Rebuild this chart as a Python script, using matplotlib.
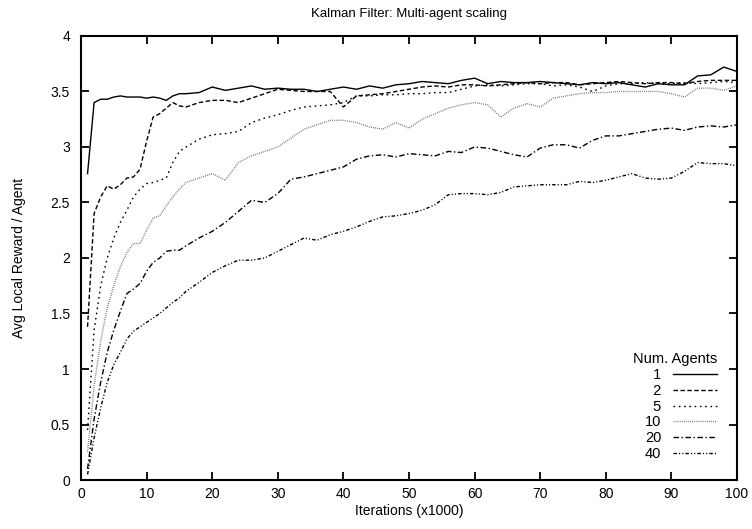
import matplotlib
matplotlib.use("Agg")
import matplotlib.pyplot as plt

plt.rcParams['font.family'] = ['Liberation Sans', 'DejaVu Sans']

# iterations (x1000)
iters = [1, 2, 3, 4, 5, 6, 7, 8, 9, 10, 11, 12, 13, 14, 15, 16,
         18, 20, 22, 24, 26, 28, 30, 32, 34, 36, 38, 40, 42, 44, 46, 48,
         50, 52, 54, 56, 58, 60, 62, 64, 66, 68, 70, 72, 74, 76, 78, 80,
         82, 84, 86, 88, 90, 92, 94, 96, 98, 100]

agents_1 = [2.76, 3.40, 3.43, 3.43, 3.45, 3.46, 3.45, 3.45, 3.45, 3.44, 3.45, 3.44, 3.42, 3.46, 3.48, 3.48,
            3.49, 3.54, 3.51, 3.53, 3.55, 3.52, 3.53, 3.52, 3.52, 3.50, 3.52, 3.54, 3.52, 3.55, 3.53, 3.56,
            3.57, 3.59, 3.58, 3.57, 3.60, 3.62, 3.57, 3.59, 3.58, 3.58, 3.59, 3.58, 3.57, 3.56, 3.58, 3.57,
            3.58, 3.56, 3.54, 3.57, 3.56, 3.56, 3.64, 3.65, 3.72, 3.68]
agents_2 = [1.38, 2.40, 2.55, 2.65, 2.62, 2.66, 2.72, 2.73, 2.80, 3.05, 3.27, 3.30, 3.35, 3.40, 3.37, 3.36,
            3.40, 3.42, 3.42, 3.40, 3.44, 3.48, 3.52, 3.51, 3.50, 3.50, 3.50, 3.36, 3.46, 3.47, 3.48, 3.50,
            3.52, 3.54, 3.55, 3.54, 3.56, 3.56, 3.55, 3.56, 3.57, 3.58, 3.57, 3.58, 3.58, 3.56, 3.57, 3.58,
            3.59, 3.58, 3.57, 3.58, 3.58, 3.57, 3.59, 3.60, 3.60, 3.60]
agents_5 = [0.45, 1.35, 1.75, 2.00, 2.18, 2.32, 2.43, 2.55, 2.62, 2.67, 2.68, 2.70, 2.72, 2.86, 2.96, 3.00,
            3.07, 3.11, 3.12, 3.14, 3.22, 3.26, 3.29, 3.33, 3.36, 3.37, 3.38, 3.40, 3.46, 3.46, 3.47, 3.47,
            3.48, 3.48, 3.49, 3.49, 3.52, 3.55, 3.56, 3.55, 3.56, 3.57, 3.57, 3.55, 3.56, 3.54, 3.50, 3.55,
            3.57, 3.57, 3.58, 3.57, 3.57, 3.58, 3.57, 3.58, 3.59, 3.58]
agents_10 = [0.25, 0.85, 1.25, 1.55, 1.75, 1.92, 2.05, 2.13, 2.13, 2.25, 2.36, 2.38, 2.47, 2.55, 2.62, 2.68,
             2.72, 2.76, 2.70, 2.86, 2.92, 2.96, 3.00, 3.08, 3.16, 3.20, 3.24, 3.24, 3.22, 3.18, 3.16, 3.22,
             3.17, 3.25, 3.30, 3.35, 3.38, 3.40, 3.38, 3.27, 3.35, 3.39, 3.36, 3.44, 3.46, 3.48, 3.49, 3.49,
             3.50, 3.50, 3.50, 3.50, 3.48, 3.45, 3.53, 3.53, 3.51, 3.55]
agents_20 = [0.10, 0.55, 0.88, 1.15, 1.35, 1.52, 1.68, 1.72, 1.77, 1.88, 1.96, 2.00, 2.06, 2.07, 2.07, 2.11,
             2.18, 2.24, 2.32, 2.42, 2.52, 2.50, 2.58, 2.71, 2.73, 2.76, 2.79, 2.82, 2.89, 2.92, 2.93, 2.91,
             2.94, 2.93, 2.92, 2.96, 2.95, 3.00, 2.99, 2.96, 2.93, 2.91, 2.99, 3.02, 3.02, 2.99, 3.06, 3.10,
             3.10, 3.12, 3.14, 3.16, 3.17, 3.15, 3.18, 3.19, 3.18, 3.20]
agents_40 = [0.05, 0.38, 0.65, 0.88, 1.04, 1.15, 1.27, 1.34, 1.38, 1.42, 1.46, 1.50, 1.55, 1.60, 1.64, 1.70,
             1.78, 1.87, 1.93, 1.98, 1.98, 2.00, 2.06, 2.12, 2.18, 2.16, 2.21, 2.24, 2.28, 2.33, 2.37, 2.38,
             2.40, 2.43, 2.48, 2.57, 2.58, 2.58, 2.57, 2.59, 2.64, 2.65, 2.66, 2.66, 2.66, 2.69, 2.68, 2.70,
             2.73, 2.76, 2.72, 2.71, 2.72, 2.78, 2.86, 2.85, 2.85, 2.83]

labels = ['1', '2', '5', '10', '20', '40']

fig = plt.figure(figsize=(7.52, 5.29), dpi=100)
ax = fig.add_axes([0.1077, 0.0926, 0.8723, 0.8394])

ax.plot(iters, agents_1, color='black', lw=1.0, ls='-', label='\u2007' + labels[0])
ax.plot(iters, agents_2, color='black', lw=1.0, ls=(0, (3.2, 1.8)), label='\u2007' + labels[1])
ax.plot(iters, agents_5, color='black', lw=1.0, ls=(0, (1.2, 2.6)), label='\u2007' + labels[2])
ax.plot(iters, agents_10, color='#666666', lw=1.0, ls=(0, (0.6, 0.9)), label=labels[3])
ax.plot(iters, agents_20, color='black', lw=1.0, ls=(0, (4.0, 1.8, 1.0, 1.8)), label=labels[4])
ax.plot(iters, agents_40, color='black', lw=1.0, ls=(0, (2.5, 1.5, 0.8, 1.5, 0.8, 1.5)), label=labels[5])

ax.set_xlim(0, 100)
ax.set_ylim(0, 4)
ax.set_xticks(range(0, 101, 10))
ax.set_yticks([0, 0.5, 1, 1.5, 2, 2.5, 3, 3.5, 4])
ax.set_yticklabels(['0', '0.5', '1', '1.5', '2', '2.5', '3', '3.5', '4'])
ax.tick_params(direction='in', length=6, width=1.3, top=True, right=True, labelsize=10)
ax.tick_params(axis='x', pad=5)
ax.tick_params(axis='y', pad=8)
for s in ax.spines.values():
    s.set_linewidth(1.5)

ax.set_title('Kalman Filter: Multi-agent scaling', fontsize=9.5, pad=14)
ax.set_xlabel('Iterations (x1000)', fontsize=10, labelpad=2)
ax.set_ylabel('Avg Local Reward / Agent', fontsize=10, labelpad=18)

leg = ax.legend(title='Num. Agents', loc='lower right', frameon=False,
                markerfirst=False, fontsize=10.5, title_fontsize=10.5,
                handlelength=3.0, handletextpad=0.8, labelspacing=0.12,
                borderaxespad=0.3, bbox_to_anchor=(0.985, 0.02))
leg._legend_box.align = 'right'

fig.savefig('out.png', dpi=100)
